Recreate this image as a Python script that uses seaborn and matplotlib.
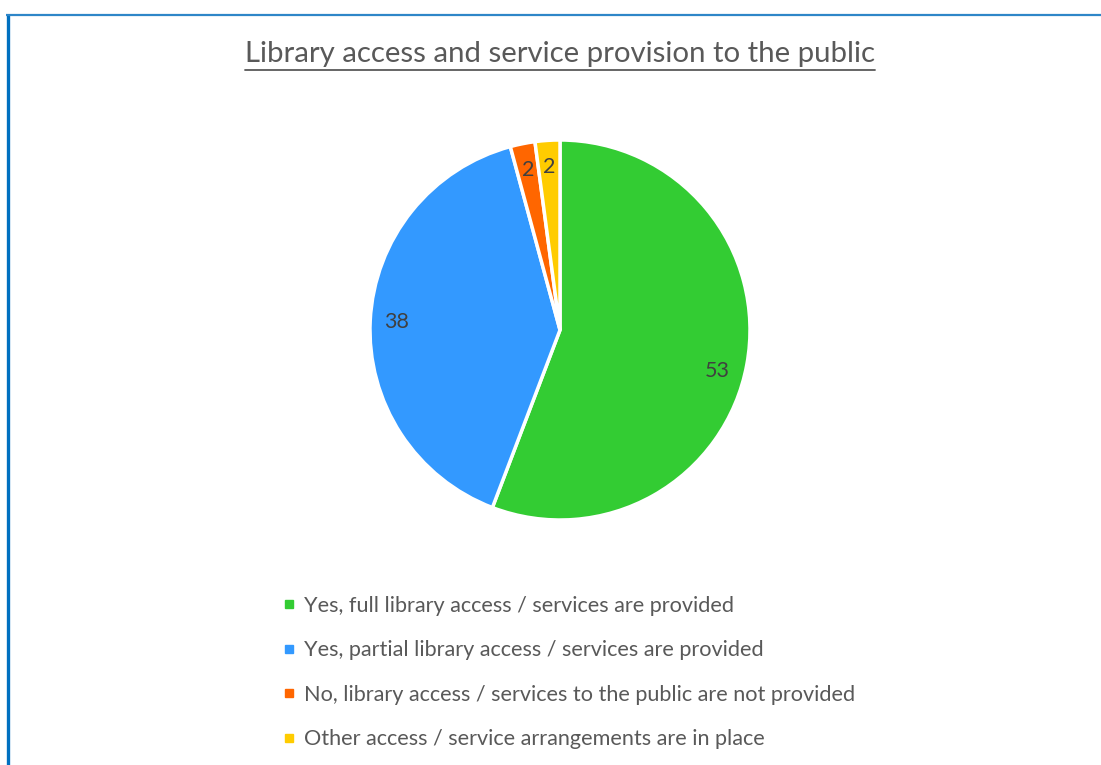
import matplotlib
matplotlib.use("Agg")
import matplotlib.pyplot as plt
from matplotlib.lines import Line2D
import seaborn as sns

categories = [
    "Yes, full library access / services are provided",
    "Yes, partial library access / services are provided",
    "No, library access / services to the public are not provided",
    "Other access / service arrangements are in place",
]
values = [53, 38, 2, 2]
colors = ["#33CC33", "#3399FF", "#FF6600", "#FFCC00"]
title = "Library access and service provision to the public"

sns.set_theme(style="white")
plt.rcParams["font.family"] = ["Lato", "DejaVu Sans"]
text_color = "#595959"

W, H = 1101, 765
fig = plt.figure(figsize=(W / 100, H / 100), dpi=100)
fig.patch.set_facecolor("white")

# frame lines along the top and left edges
fig.add_artist(Line2D([7.5 / W, 7.5 / W], [0, 1 - 14 / H], transform=fig.transFigure,
                      color="#0070C0", lw=2.4, solid_capstyle="butt"))
fig.add_artist(Line2D([6 / W, 1], [1 - 14.5 / H, 1 - 14.5 / H], transform=fig.transFigure,
                      color="#2E86C8", lw=1.6, solid_capstyle="butt"))

# pie axes
cx, cy, r = 560, 330, 190
ax = fig.add_axes([(cx - r) / W, 1 - (cy + r) / H, 2 * r / W, 2 * r / H])
wedges, texts = ax.pie(
    values,
    colors=colors,
    startangle=90,
    counterclock=False,
    radius=1,
    labels=[str(v) for v in values],
    labeldistance=0.86,
    wedgeprops=dict(edgecolor="white", linewidth=2.5, clip_on=False),
    textprops=dict(color="#404040", fontsize=15.5),
)
for t in texts:
    t.set_ha("center")
    t.set_va("center")
# nudge the large-slice label slightly downward along the rim
x53, y53 = texts[0].get_position()
texts[0].set_position((x53 - 0.02, y53 - 0.06))
ax.set_xlim(-1, 1)
ax.set_ylim(-1, 1)
ax.set_aspect("equal")
ax.axis("off")

# title with underline
tt = fig.text(cx / W, 1 - 54 / H, title, ha="center", va="center",
              fontsize=21.2, color=text_color)
fig.canvas.draw()
bb = tt.get_window_extent(renderer=fig.canvas.get_renderer())
inv = fig.transFigure.inverted()
(x0, y0), (x1, y1) = inv.transform([(bb.x0, bb.y0), (bb.x1, bb.y1)])
uy = 1 - 70 / H
fig.add_artist(Line2D([x0, x1], [uy, uy], transform=fig.transFigure,
                      color=text_color, lw=1.3))

# legend
handles = [Line2D([], [], marker="s", linestyle="none", markersize=6,
                  markerfacecolor=c, markeredgecolor=c) for c in colors]
leg = fig.legend(handles, categories, loc="upper left",
                 bbox_to_anchor=(272 / W, 1 - 585 / H), frameon=False,
                 fontsize=15.6, labelcolor=text_color, handlelength=0.55,
                 handletextpad=0.45, labelspacing=1.13, borderpad=0)

fig.savefig("out.png", dpi=100, facecolor="white")
